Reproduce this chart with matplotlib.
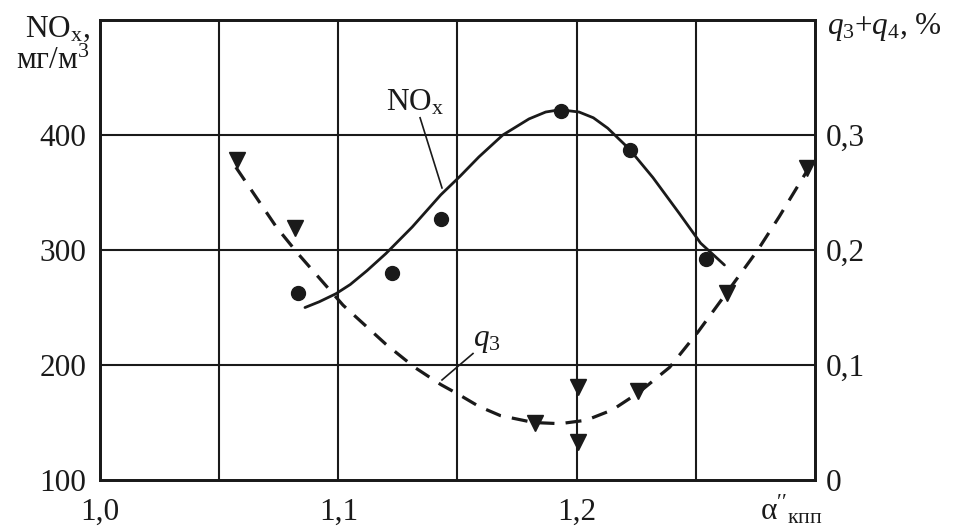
import matplotlib
matplotlib.use("Agg")
import matplotlib.pyplot as plt

plt.rcParams["font.family"] = ["Liberation Serif", "DejaVu Serif"]
plt.rcParams["mathtext.fontset"] = "custom"
plt.rcParams["mathtext.rm"] = "Liberation Serif"
plt.rcParams["mathtext.it"] = "Liberation Serif:italic"

# measured NOx points (mg/m3)
nox_x = [1.083, 1.1225, 1.143, 1.1934, 1.2224, 1.2543]
nox_y = [263, 280, 327, 421, 387, 292]

# NOx trend curve
nox_curve_x = [1.086, 1.092, 1.099, 1.105, 1.112, 1.120, 1.131, 1.143, 1.151, 1.159, 1.169,
               1.180, 1.187, 1.193, 1.201, 1.207, 1.213, 1.222, 1.232, 1.243, 1.252, 1.262]
nox_curve_y = [250, 255, 262, 270, 282, 297, 320, 348, 364, 381, 400,
               414, 420, 422, 420, 415, 406, 388, 363, 332, 306, 287]

# measured q3 points (%)
q_x = [1.0575, 1.0818, 1.1825, 1.2006, 1.2006, 1.2258, 1.2631, 1.2966]
q_y = [0.278, 0.219, 0.050, 0.081, 0.033, 0.077, 0.163, 0.271]

# q3 trend curve
q_curve_x = [1.057, 1.074, 1.083, 1.102, 1.120, 1.132, 1.143, 1.150, 1.159, 1.168, 1.182,
             1.193, 1.204, 1.215, 1.226, 1.239, 1.251, 1.263, 1.276, 1.285, 1.297]
q_curve_y = [0.272, 0.220, 0.197, 0.152, 0.118, 0.098, 0.083, 0.075, 0.064, 0.056, 0.050,
             0.049, 0.052, 0.061, 0.076, 0.098, 0.129, 0.163, 0.200, 0.229, 0.270]

x_ticks = [1.0, 1.1, 1.2]
x_labels = ["1,0", "1,1", "1,2"]
x_grid = [1.05, 1.1, 1.15, 1.2, 1.25]
nox_ticks = [100, 200, 300, 400]
q_ticks = [0.0, 0.1, 0.2, 0.3]
q_labels = ["0", "0,1", "0,2", "0,3"]

ink = "#1a1a1a"
fs = 22.5

fig = plt.figure(figsize=(9.55, 5.31), dpi=100)
ax = fig.add_axes([0.1047, 0.096, 0.7487, 0.8663])
ax.set_xlim(1.0, 1.3)
ax.set_ylim(100, 500)

for gx in x_grid:
    ax.axvline(gx, color=ink, lw=1.5, zorder=1)
for gy in [200, 300, 400]:
    ax.axhline(gy, color=ink, lw=1.5, zorder=1)

for s in ax.spines.values():
    s.set_linewidth(2.0)
    s.set_color(ink)

ax.set_xticks(x_ticks)
ax.set_xticklabels(x_labels)
ax.set_yticks(nox_ticks)
ax.tick_params(axis="both", length=0, labelsize=fs, colors=ink)
ax.tick_params(axis="x", pad=13)
ax.tick_params(axis="y", pad=10)

ax.plot(nox_curve_x, nox_curve_y, color=ink, lw=2.0, zorder=3,
        solid_joinstyle="round", solid_capstyle="round")
ax.plot(nox_x, nox_y, "o", color=ink, ms=10, zorder=4)

ax2 = ax.twinx()
ax2.set_ylim(0, 0.4)
ax2.set_yticks(q_ticks)
ax2.set_yticklabels(q_labels)
ax2.tick_params(axis="y", length=0, labelsize=fs, colors=ink, pad=8)
for s in ax2.spines.values():
    s.set_linewidth(2.0)
    s.set_color(ink)

ax2.plot(q_curve_x, q_curve_y, color=ink, lw=2.3, ls=(0, (5, 3.5)), zorder=3,
         dash_joinstyle="round")
ax2.plot(q_x, q_y, "v", color=ink, ms=11, zorder=4)

# curve labels with leader lines
ax.plot([1.1343, 1.1435], [415, 354], color=ink, lw=1.2)
ax.text(1.1322, 428, r"NO$_\mathrm{x}$", fontsize=fs, ha="center", va="center", color=ink)
ax2.plot([1.1565, 1.1435], [0.110, 0.087], color=ink, lw=1.2)
ax2.text(1.1624, 0.121, r"$q_3$", fontsize=fs, ha="center", va="center", color=ink)

# axis titles
fig.text(0.094, 0.945, r"NO$_\mathrm{x}$,", fontsize=fs, ha="right", va="center", color=ink)
fig.text(0.094, 0.885, r"мг/м$^3$", fontsize=fs, ha="right", va="center", color=ink)
fig.text(0.866, 0.95, r"$q_3$+$q_4$, %", fontsize=fs, ha="left", va="center", color=ink)
fig.text(0.862, 0.008, r"$\mathrm{α}''_{\mathrm{кпп}}$", fontsize=fs, ha="right",
         va="bottom", color=ink)

fig.savefig("out.png", dpi=100)
